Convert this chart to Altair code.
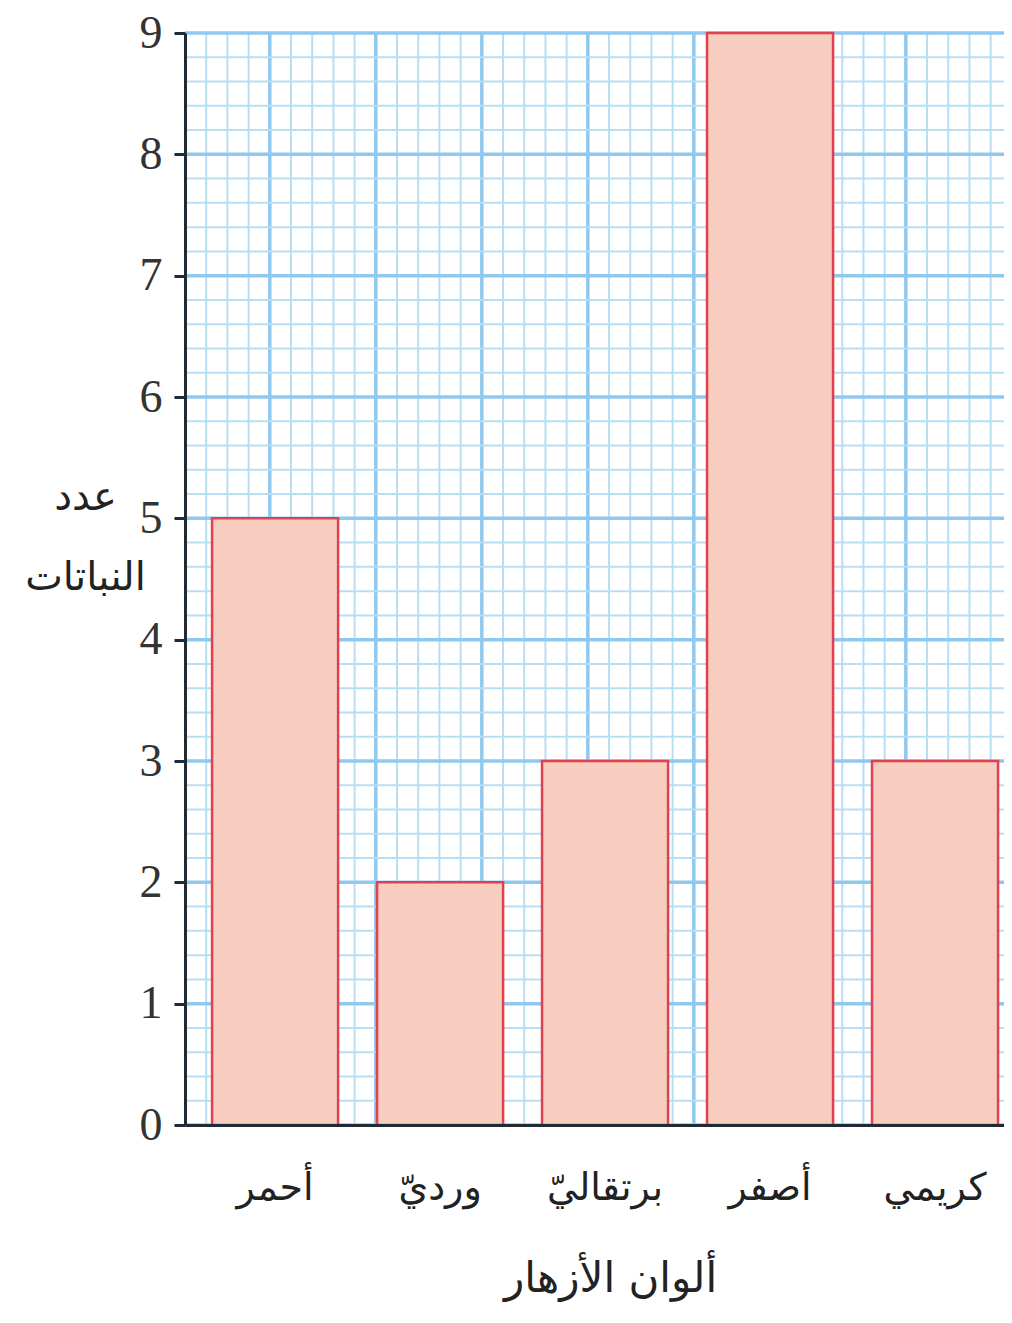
import altair as alt
import pandas as pd

# Data
categories = ["أحمر", "ورديّ", "برتقاليّ", "أصفر", "كريمي"]
counts = [5, 2, 3, 9, 3]

x_title = "ألوان الأزهار"
y_title = ["عدد", "النباتات"]
y_ticks = [0, 1, 2, 3, 4, 5, 6, 7, 8, 9]

# graph-paper grid (in grid units)
grid_cols_minor = list(range(0, 39))
grid_cols_major = [4, 9, 14, 19, 24, 29, 34]
grid_rows_minor = [round(i * 0.2, 1) for i in range(0, 46)]
grid_rows_major = list(range(0, 10))

df = pd.DataFrame({"colour": categories, "count": counts})

W, H = 819, 1092
ydom = alt.Scale(domain=[0, 9], nice=False, zero=True)
xgrid_scale = alt.Scale(domain=[0, 38.63], nice=False, zero=False)

minor_c = "#b8def5"
major_c = "#90c9ef"

vminor = alt.Chart(pd.DataFrame({"gx": grid_cols_minor})).mark_rule(
    color=minor_c, strokeWidth=2
).encode(x=alt.X("gx:Q", scale=xgrid_scale, axis=None))

vmajor = alt.Chart(pd.DataFrame({"gx": grid_cols_major})).mark_rule(
    color=major_c, strokeWidth=3.5
).encode(x=alt.X("gx:Q", scale=xgrid_scale, axis=None))

hminor = alt.Chart(pd.DataFrame({"gy": grid_rows_minor})).mark_rule(
    color=minor_c, strokeWidth=2
).encode(y=alt.Y("gy:Q", scale=ydom, axis=None))

hmajor = alt.Chart(pd.DataFrame({"gy": grid_rows_major})).mark_rule(
    color=major_c, strokeWidth=3.5
).encode(y=alt.Y("gy:Q", scale=ydom, axis=None))

bars = alt.Chart(df).mark_bar(
    fill="#f6cdbf", stroke="#e0404f", strokeWidth=2.5
).encode(
    x=alt.X(
        "colour:N",
        sort=None,
        scale=alt.Scale(paddingInner=0.236, paddingOuter=0.1, align=0.82),
        axis=alt.Axis(
            orient="bottom",
            title=x_title,
            labelAngle=0,
            labelFont="DejaVu Sans",
            labelFontSize=38,
            labelColor="#222222",
            labelPadding=44,
            ticks=False,
            domainColor="#1e2a36",
            domainWidth=3,
            titleFont="DejaVu Sans",
            titleFontSize=42,
            titleFontWeight="normal",
            titleColor="#222222",
            titleX=425,
            titleY=166,
            titleAlign="center",
            titleBaseline="alphabetic",
            zindex=1,
        ),
    ),
    y=alt.Y(
        "count:Q",
        scale=ydom,
        axis=alt.Axis(
            orient="left",
            values=y_ticks,
            title=y_title,
            grid=False,
            labelFont="Liberation Serif",
            labelFontSize=46,
            labelColor="#333333",
            labelPadding=12,
            tickSize=11,
            tickWidth=3,
            tickColor="#1e2a36",
            domainColor="#1e2a36",
            domainWidth=3,
            titleAngle=0,
            titleFont="DejaVu Sans",
            titleFontSize=40,
            titleFontWeight="normal",
            titleColor="#222222",
            titleAlign="center",
            titleBaseline="alphabetic",
            titleX=-100,
            titleY=476,
            titleLineHeight=80,
            zindex=1,
        ),
    ),
)

chart = (
    alt.layer(vminor, vmajor, hminor, hmajor, bars)
    .resolve_scale(x="independent", y="independent")
    .properties(
        width=W,
        height=H,
        autosize=alt.AutoSizeParams(type="none"),
        padding={"left": 177, "top": 25, "right": 0, "bottom": 182},
    )
    .configure_view(stroke=None)
    .configure(background="white")
)

chart.save("out.html", embed_options={"renderer": "svg", "actions": False})
